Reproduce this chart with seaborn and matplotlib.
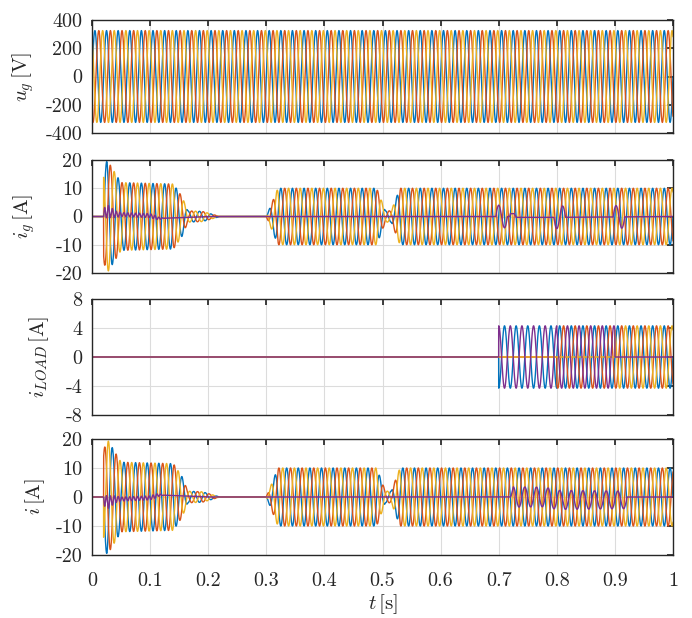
import numpy as np
import pandas as pd
import seaborn as sns
import matplotlib
matplotlib.use("Agg")
import matplotlib.pyplot as plt

# --- values ---
f_grid = 50.0                       # Hz
u_peak = 325.0                      # V
phase_names = ["a", "b", "c"]
phase_shift = [0.0, -2 * np.pi / 3, 2 * np.pi / 3]
colors = ["#0072BD", "#D95319", "#EDB120", "#7E2F8E"]

# grid current envelope (time breakpoints [s], amplitude [A])
ig_env_t = [0.0, 0.0199, 0.02, 0.026, 0.05, 0.14, 0.155, 0.165, 0.19, 0.22, 0.30, 0.32, 0.49, 0.505, 0.515, 0.53, 1.0]
ig_env_a = [0.0, 0.0, 16.0, 20.0, 12.0, 11.5, 7.0, 2.0, 1.8, 0.0, 0.0, 10.0, 10.0, 2.0, 2.0, 10.0, 10.0]

# neutral part of grid current: early ripple + offset + bursts at load steps
ig_n_ripple_t = [0.0, 0.0199, 0.02, 0.024, 0.04, 0.05, 0.11, 0.125, 1.0]
ig_n_ripple_a = [0.0, 0.0, 2.5, 2.5, 1.2, 0.7, 0.7, 0.0, 0.0]
ig_n_offset_t = [0.0, 0.02, 0.025, 0.04, 0.10, 0.115, 0.2, 0.719, 0.72, 0.727, 0.73, 0.8, 1.0]
ig_n_offset_v = [0.0, 0.0, 2.0, 0.8, 0.3, -0.7, 0.0, 0.0, 1.0, 1.0, -0.3, -0.3, 0.0]
burst_t0 = [0.695, 0.795, 0.897]
burst_amp = [4.0, -4.0, 4.0]

# load current: steps at 0.7, 0.8, 0.9 s
load_amp = 4.3
load_on_t = [0.7, 0.8, 0.9]

# converter current neutral oscillation 0.72 .. 0.92 s
i_n_t = [0.0, 0.72, 0.725, 0.92, 0.921, 1.0]
i_n_a = [0.0, 0.0, 3.5, 3.0, 0.0, 0.0]
i_n_off_t = [0.0, 0.78, 0.80, 0.92, 0.921, 1.0]
i_n_off_v = [0.0, 0.0, -1.0, -1.0, 0.0, 0.0]

# y-label anchor in the figure [px], as placed in the reference
ylabel_right_px = [36, 37, 51, 47]

t = np.linspace(0, 1, 10001)
w = 2 * np.pi * f_grid

# --- build the signals ---
ug = {p: u_peak * np.sin(w * t + s) for p, s in zip(phase_names, phase_shift)}

env = np.interp(t, ig_env_t, ig_env_a)
ig = {p: env * np.sin(w * t + s) for p, s in zip(phase_names, phase_shift)}
ig_n = np.interp(t, ig_n_ripple_t, ig_n_ripple_a) * np.sin(3 * w * (t - 0.02)) \
    + np.interp(t, ig_n_offset_t, ig_n_offset_v)
for t0, a in zip(burst_t0, burst_amp):
    m = (t >= t0) & (t <= t0 + 0.02)
    ig_n[m] += a * np.sin(w * (t[m] - t0))

il = {p: np.zeros_like(t) for p in phase_names}
m1 = (t >= load_on_t[0]) & (t < load_on_t[1])
m2 = (t >= load_on_t[1]) & (t < load_on_t[2])
m3 = t >= load_on_t[2]
il["a"][m1] = -load_amp * np.cos(w * t[m1])
il["a"][m2] = load_amp * np.sin(w * t[m2])
il["b"][m2] = load_amp * np.sin(w * t[m2] - 2 * np.pi / 3)
for p, s in zip(phase_names, phase_shift):
    il[p][m3] = load_amp * np.sin(w * t[m3] + s)
il_n = -(il["a"] + il["b"] + il["c"])

ii = {p: -env * np.sin(w * t + s) for p, s in zip(phase_names, phase_shift)}
i_n = np.interp(t, i_n_t, i_n_a) * np.sin(w * t) + np.interp(t, i_n_off_t, i_n_off_v)
ii_n = -ig_n * (t < 0.3) + i_n


def to_frame(d, n):
    rows = []
    for p in phase_names:
        rows.append(pd.DataFrame({"t": t, "v": d[p], "ph": p}))
    if n is not None:
        rows.append(pd.DataFrame({"t": t, "v": n, "ph": "n"}))
    return pd.concat(rows, ignore_index=True)


# --- style (MATLAB-like with LaTeX fonts) ---
sns.set_theme(style="whitegrid")
plt.rcParams.update({
    "font.family": "serif",
    "font.serif": ["cmr10", "DejaVu Serif"],
    "mathtext.fontset": "cm",
    "axes.unicode_minus": False,
    "axes.formatter.use_mathtext": True,
    "axes.edgecolor": "#262626",
    "axes.linewidth": 1.0,
    "grid.color": "#dcdcdc",
    "grid.linewidth": 0.8,
    "xtick.direction": "in",
    "ytick.direction": "in",
    "xtick.top": True,
    "ytick.right": True,
    "xtick.major.size": 4,
    "ytick.major.size": 4,
    "xtick.color": "#262626",
    "ytick.color": "#262626",
    "font.size": 12,
})

fig = plt.figure(figsize=(6.92, 6.18), dpi=100)
W, H = 692, 618
left, right = 92, 673
panels = [(20, 133), (160, 273), (299, 415), (439, 555)]
axes = [fig.add_axes([left / W, 1 - b / H, (right - left) / W, (b - tp) / H]) for tp, b in panels]

data = [(ug, None), (ig, ig_n), (il, il_n), (ii, ii_n)]
ylabels = [r"$u_g\,[\mathrm{V}]$", r"$i_g\,[\mathrm{A}]$", r"$i_{LOAD}\,[\mathrm{A}]$", r"$i\,[\mathrm{A}]$"]
ylims = [(-400, 400), (-20, 20), (-8, 8), (-20, 20)]
yticks = [[-400, -200, 0, 200, 400], [-20, -10, 0, 10, 20], [-8, -4, 0, 4, 8], [-20, -10, 0, 10, 20]]
xticks = [0, 0.1, 0.2, 0.3, 0.4, 0.5, 0.6, 0.7, 0.8, 0.9, 1.0]
xticklabels = ["0", "0.1", "0.2", "0.3", "0.4", "0.5", "0.6", "0.7", "0.8", "0.9", "1"]

for ax, (d, n), yl, lim, yt, lx in zip(axes, data, ylabels, ylims, yticks, ylabel_right_px):
    df = to_frame(d, n)
    hue_order = phase_names + (["n"] if n is not None else [])
    sns.lineplot(data=df, x="t", y="v", hue="ph", hue_order=hue_order,
                 palette=colors[:len(hue_order)], estimator=None, sort=False,
                 linewidth=1.0, legend=False, ax=ax)
    ax.set_xlim(0, 1)
    ax.set_ylim(*lim)
    ax.set_yticks(yt)
    ax.set_yticklabels([str(v) for v in yt])
    ax.set_xticks(xticks)
    ax.set_ylabel(yl, fontsize=15)
    ax.yaxis.set_label_coords((lx - left) / (right - left), 0.5)
    ax.set_xlabel("")
    for s in ax.spines.values():
        s.set_visible(True)
    ax.tick_params(axis="y", labelsize=14.5, pad=7)
    ax.tick_params(axis="x", labelsize=14.5, pad=12)
    if ax is axes[-1]:
        ax.set_xticklabels(xticklabels)
        ax.set_xlabel(r"$t\,[\mathrm{s}]$", fontsize=15, labelpad=2)
    else:
        ax.set_xticklabels([])

fig.savefig("out.png", dpi=100)
